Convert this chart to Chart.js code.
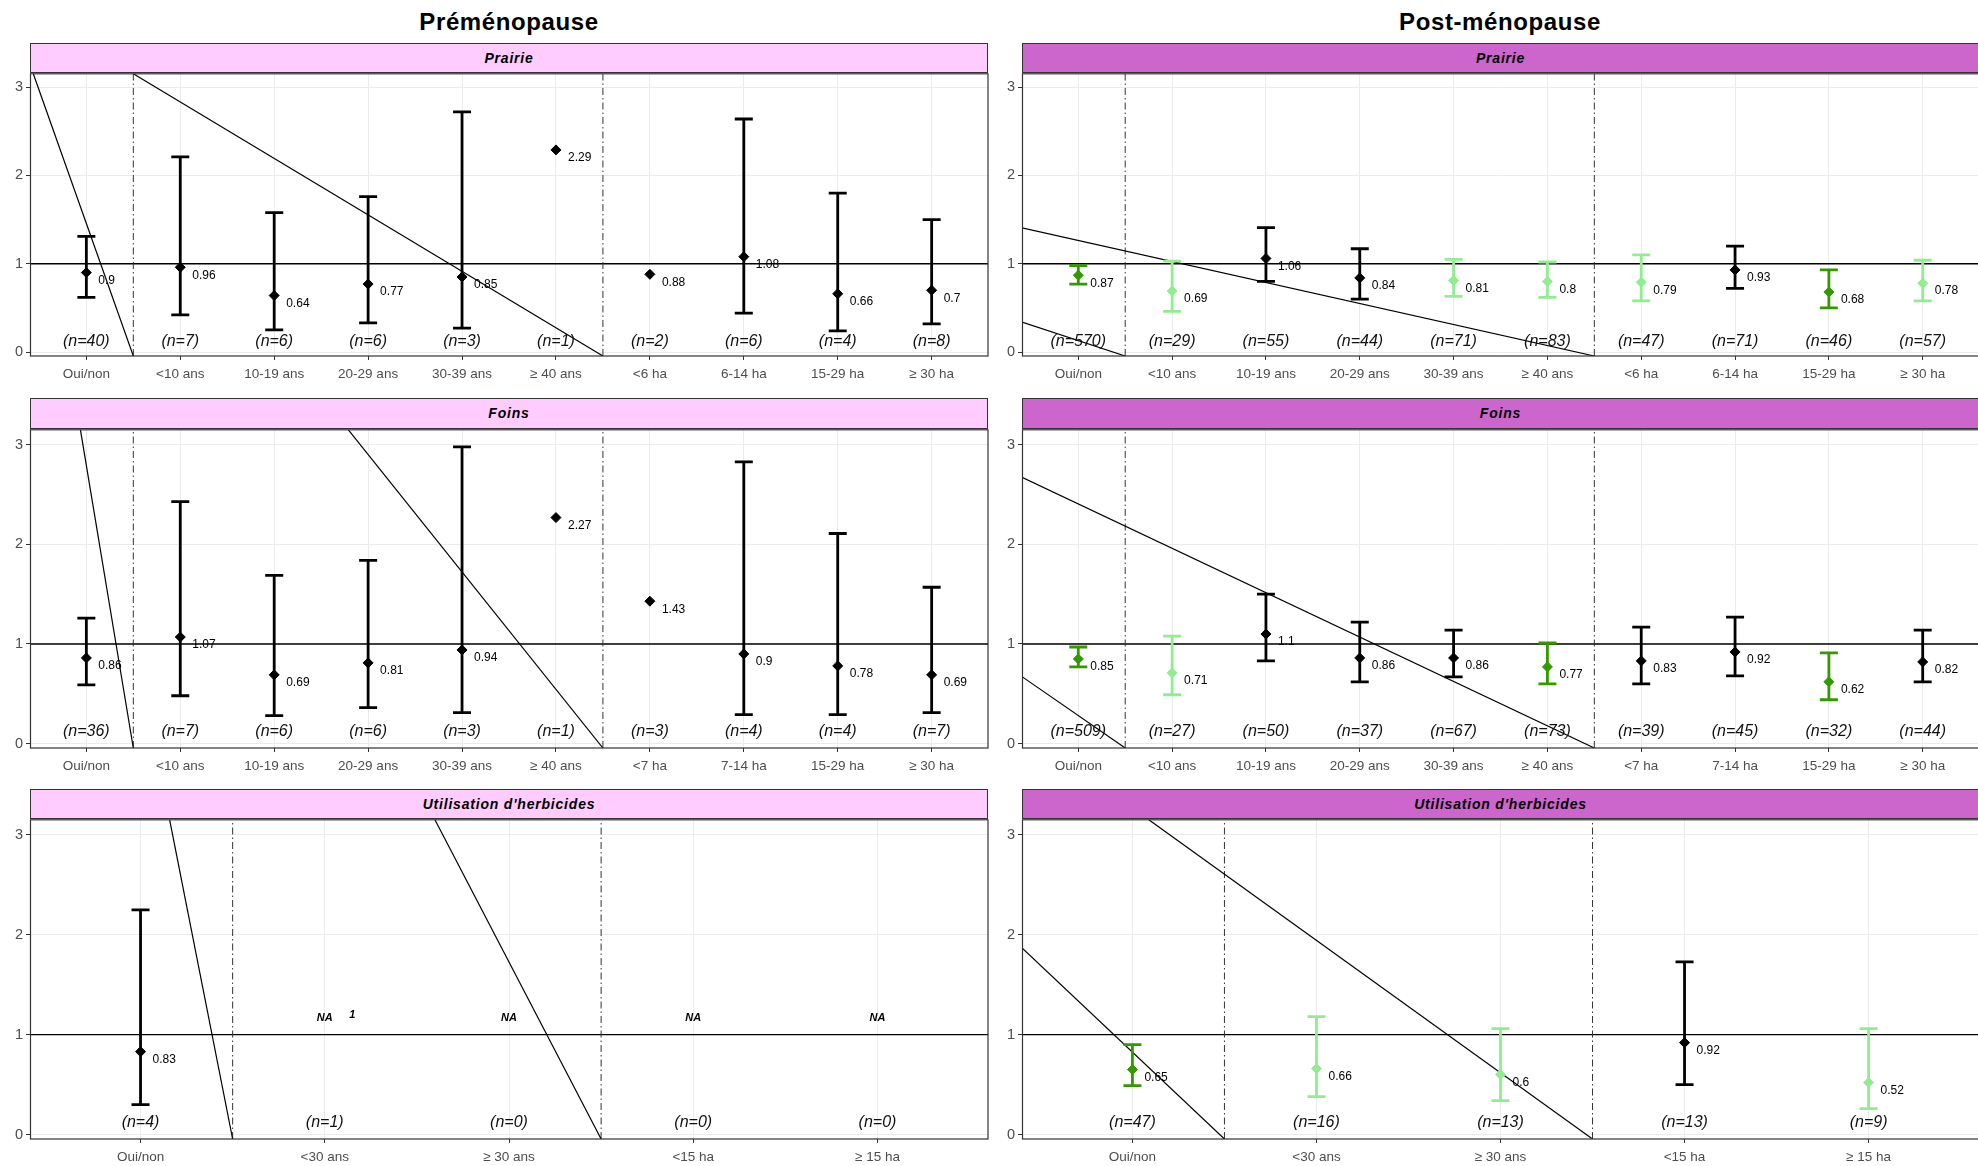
<!DOCTYPE html>
<html>
<head>
<meta charset="utf-8">
<script src="https://cdn.jsdelivr.net/npm/chart.js@4.4.1/dist/chart.umd.min.js"></script>
<style>
  body { margin: 0; width: 1978px; height: 1166px; overflow: hidden; background: #fff; position: relative;
         font-family: 'Liberation Sans', Arial, sans-serif; }
  .title { position: absolute; font-weight: bold; font-size: 24px; letter-spacing: 0.6px; text-align: center; height: 28px; line-height: 28px; }
  .strip { position: absolute; box-sizing: border-box; border: 1px solid #333; font-weight: bold; font-style: italic;
           font-size: 14px; letter-spacing: 0.8px; text-align: center; }
  canvas { position: absolute; }
</style>
</head>
<body>
<script>
const FONT = "'Liberation Sans', Arial, sans-serif";
const dark = '#339900', light = '#90EE90', black = '#000000';
const colorOf = { k: black, d: dark, l: light };

// categories
const catsPrairie = ['Oui/non', '<10 ans', '10-19 ans', '20-29 ans', '30-39 ans', '≥ 40 ans', '<6 ha', '6-14 ha', '15-29 ha', '≥ 30 ha'];
const catsFoins = ['Oui/non', '<10 ans', '10-19 ans', '20-29 ans', '30-39 ans', '≥ 40 ans', '<7 ha', '7-14 ha', '15-29 ha', '≥ 30 ha'];
const catsHerb = ['Oui/non', '<30 ans', '≥ 30 ans', '<15 ha', '≥ 15 ha'];
const yTicks = [0, 1, 2, 3];
const yMin = -0.045, yMax = 3.152;
const nLabelY = 0.12;

// Préménopause - Prairie
const prePrairieOR = [0.9, 0.96, 0.64, 0.77, 0.85, 2.29, 0.88, 1.08, 0.66, 0.7];
const prePrairieLow = [0.62, 0.42, 0.25, 0.33, 0.27, null, null, 0.44, 0.24, 0.32];
const prePrairieHigh = [1.31, 2.21, 1.58, 1.76, 2.72, null, null, 2.64, 1.8, 1.5];
const prePrairieN = [40, 7, 6, 6, 3, 1, 2, 6, 4, 8];
const prePrairieCol = ['k', 'k', 'k', 'k', 'k', 'k', 'k', 'k', 'k', 'k'];

// Post-ménopause - Prairie
const postPrairieOR = [0.87, 0.69, 1.06, 0.84, 0.81, 0.8, 0.79, 0.93, 0.68, 0.78];
const postPrairieLow = [0.77, 0.46, 0.8, 0.6, 0.63, 0.62, 0.58, 0.72, 0.5, 0.58];
const postPrairieHigh = [0.98, 1.03, 1.41, 1.17, 1.05, 1.02, 1.1, 1.2, 0.93, 1.04];
const postPrairieN = [570, 29, 55, 44, 71, 83, 47, 71, 46, 57];
const postPrairieCol = ['d', 'l', 'k', 'k', 'l', 'l', 'l', 'k', 'd', 'l'];

// Préménopause - Foins
const preFoinsOR = [0.86, 1.07, 0.69, 0.81, 0.94, 2.27, 1.43, 0.9, 0.78, 0.69];
const preFoinsLow = [0.59, 0.48, 0.28, 0.36, 0.31, null, null, 0.29, 0.29, 0.31];
const preFoinsHigh = [1.26, 2.43, 1.69, 1.84, 2.98, null, null, 2.83, 2.11, 1.57];
const preFoinsN = [36, 7, 6, 6, 3, 1, 3, 4, 4, 7];
const preFoinsCol = ['k', 'k', 'k', 'k', 'k', 'k', 'k', 'k', 'k', 'k'];

// Post-ménopause - Foins
const postFoinsOR = [0.85, 0.71, 1.1, 0.86, 0.86, 0.77, 0.83, 0.92, 0.62, 0.82];
const postFoinsLow = [0.77, 0.49, 0.83, 0.62, 0.67, 0.6, 0.6, 0.68, 0.44, 0.62];
const postFoinsHigh = [0.97, 1.08, 1.5, 1.22, 1.14, 1.01, 1.17, 1.27, 0.91, 1.14];
const postFoinsN = [509, 27, 50, 37, 67, 73, 39, 45, 32, 44];
const postFoinsCol = ['d', 'l', 'k', 'k', 'k', 'd', 'k', 'k', 'd', 'k'];

// Préménopause - Utilisation d'herbicides
const preHerbOR = [0.83, null, null, null, null];
const preHerbLow = [0.3, null, null, null, null];
const preHerbHigh = [2.25, null, null, null, null];
const preHerbN = [4, 1, 0, 0, 0];
const preHerbCol = ['k', 'k', 'k', 'k', 'k'];
const preHerbNotes = [[2, 1.17, 'NA'], [2.15, 1.2, '1'], [3, 1.17, 'NA'], [4, 1.17, 'NA'], [5, 1.17, 'NA']];

// Post-ménopause - Utilisation d'herbicides
const postHerbOR = [0.65, 0.66, 0.6, 0.92, 0.52];
const postHerbLow = [0.49, 0.38, 0.34, 0.5, 0.26];
const postHerbHigh = [0.9, 1.18, 1.06, 1.73, 1.06];
const postHerbN = [47, 16, 13, 13, 9];
const postHerbCol = ['d', 'l', 'l', 'k', 'l'];

// group separators and straight reference lines [x0, y0, x1, y1]
const sepsLong = [1.5, 6.5];
const sepsHerb = [1.5, 3.5];
const prePrairieDiag = [[0.435, 3.152, 1.5, -0.045], [1.5, 3.152, 6.5, -0.045]];
const postPrairieDiag = [[0.4, 0.338, 1.5, -0.045], [0.4, 1.407, 6.5, -0.045]];
const preFoinsDiag = [[0.937, 3.152, 1.5, -0.045], [3.79, 3.152, 6.5, -0.045]];
const postFoinsDiag = [[0.4, 0.672, 1.5, -0.045], [0.4, 2.675, 6.5, -0.045]];
const preHerbDiag = [[1.158, 3.152, 1.5, -0.045], [2.598, 3.152, 3.5, -0.045]];
const postHerbDiag = [[0.4, 1.869, 1.5, -0.045], [1.089, 3.152, 3.5, -0.045]];

// page layout
const colLeft = [30, 1022], colRight = [988, 1979];
const rowStrip = [43, 398, 789], rowTop = [72, 428, 818], rowBottom = [356, 748, 1139];
const stripFill = ['#FFCCFF', '#CC66CC'];

function addTitle(text, center) {
  const d = document.createElement('div');
  d.className = 'title';
  d.textContent = text;
  d.style.left = (center - 200) + 'px';
  d.style.width = '400px';
  d.style.top = '8px';
  document.body.appendChild(d);
}

function panel(col, row, p) {
  const left = colLeft[col], right = colRight[col];
  const top = rowTop[row], bottom = rowBottom[row];

  const s = document.createElement('div');
  s.className = 'strip';
  s.textContent = p.strip;
  s.style.left = left + 'px';
  s.style.top = rowStrip[row] + 'px';
  s.style.width = (right - left) + 'px';
  s.style.height = (top - rowStrip[row] + 1) + 'px';
  s.style.lineHeight = (top - rowStrip[row] - 1) + 'px';
  s.style.background = stripFill[col];
  document.body.appendChild(s);

  const cv = document.createElement('canvas');
  cv.width = right - left + 42;
  cv.height = bottom - top + 40;
  cv.style.left = (left - 30) + 'px';
  cv.style.top = (top - 10) + 'px';
  document.body.appendChild(cv);

  const nCat = p.cats.length;
  const datasets = [];
  datasets.push({ data: [{ x: 0.4, y: 1 }, { x: nCat + 0.6, y: 1 }], showLine: true,
                  borderColor: '#000', borderWidth: 1.3, pointRadius: 0, order: 6 });
  p.seps.forEach(v => datasets.push({ data: [{ x: v, y: yMin }, { x: v, y: yMax }], showLine: true,
                  borderColor: '#333', borderWidth: 1, borderDash: [7, 3, 1.5, 3], pointRadius: 0, order: 5 }));
  p.diag.forEach(d => datasets.push({ data: [{ x: d[0], y: d[1] }, { x: d[2], y: d[3] }], showLine: true,
                  borderColor: '#000', borderWidth: 1.2, pointRadius: 0, order: 4 }));
  p.or.forEach((v, i) => {
    if (p.low[i] == null) return;
    const c = colorOf[p.col[i]];
    datasets.push({ data: [{ x: i + 1, y: p.low[i] }, { x: i + 1, y: p.high[i] }], showLine: true,
                    borderColor: c, borderWidth: 2.8, pointStyle: 'line', pointRadius: 9,
                    pointBorderWidth: 2.8, pointBorderColor: c, order: 2 });
  });
  const pts = [], ptCols = [];
  p.or.forEach((v, i) => {
    if (v == null) return;
    pts.push({ x: i + 1, y: v });
    ptCols.push(colorOf[p.col[i]]);
  });
  datasets.push({ data: pts, pointStyle: 'rectRot', pointRadius: 5, pointBackgroundColor: ptCols,
                  pointBorderColor: ptCols, pointBorderWidth: 1, order: 1 });

  const textPlugin = {
    id: 'panelText',
    afterDatasetsDraw(chart) {
      const ctx = chart.ctx, xs = chart.scales.x, ys = chart.scales.y;
      ctx.save();
      ctx.fillStyle = '#000';
      ctx.textBaseline = 'middle';
      ctx.font = '12px ' + FONT;
      ctx.textAlign = 'left';
      p.or.forEach((v, i) => {
        if (v == null) return;
        ctx.fillText(String(v), xs.getPixelForValue(i + 1) + 12, ys.getPixelForValue(v) + 8);
      });
      ctx.font = 'italic 16px ' + FONT;
      ctx.textAlign = 'center';
      ctx.fillStyle = '#111';
      p.n.forEach((n, i) => {
        ctx.fillText('(n=' + n + ')', xs.getPixelForValue(i + 1), ys.getPixelForValue(nLabelY));
      });
      ctx.font = 'bold italic 11px ' + FONT;
      ctx.fillStyle = '#000';
      (p.notes || []).forEach(t => {
        ctx.fillText(t[2], xs.getPixelForValue(t[0]), ys.getPixelForValue(t[1]));
      });
      const a = chart.chartArea;
      ctx.strokeStyle = '#333';
      ctx.lineWidth = 1.2;
      ctx.strokeRect(a.left + 0.5, a.top, a.width - 0.5, a.height);
      ctx.restore();
    }
  };

  new Chart(cv, {
    type: 'scatter',
    data: { datasets: datasets },
    options: {
      responsive: false,
      animation: false,
      devicePixelRatio: 1,
      layout: { padding: { top: 10, right: 12, bottom: 0, left: 0 } },
      plugins: { legend: { display: false }, tooltip: { enabled: false } },
      scales: {
        x: {
          type: 'linear', min: 0.4, max: nCat + 0.6,
          afterBuildTicks: sc => { sc.ticks = p.cats.map((c, i) => ({ value: i + 1 })); },
          afterFit: sc => { sc.height = 30; },
          ticks: { callback: v => p.cats[v - 1], color: '#4D4D4D', font: { size: 13.5, family: FONT },
                   padding: 6, autoSkip: false, maxRotation: 0 },
          grid: { color: '#EBEBEB', tickColor: '#333', tickLength: 4 },
          border: { display: false }
        },
        y: {
          min: yMin, max: yMax,
          afterBuildTicks: sc => { sc.ticks = yTicks.map(v => ({ value: v })); },
          afterFit: sc => { sc.width = 30; },
          ticks: { color: '#4D4D4D', font: { size: 14.5, family: FONT }, padding: 3 },
          grid: { color: '#EBEBEB', tickColor: '#333', tickLength: 4 },
          border: { display: false }
        }
      }
    },
    plugins: [textPlugin]
  });
}

addTitle('Préménopause', 509);
addTitle('Post-ménopause', 1500);

panel(0, 0, { strip: 'Prairie', cats: catsPrairie, or: prePrairieOR, low: prePrairieLow, high: prePrairieHigh,
              n: prePrairieN, col: prePrairieCol, seps: sepsLong, diag: prePrairieDiag });
panel(1, 0, { strip: 'Prairie', cats: catsPrairie, or: postPrairieOR, low: postPrairieLow, high: postPrairieHigh,
              n: postPrairieN, col: postPrairieCol, seps: sepsLong, diag: postPrairieDiag });
panel(0, 1, { strip: 'Foins', cats: catsFoins, or: preFoinsOR, low: preFoinsLow, high: preFoinsHigh,
              n: preFoinsN, col: preFoinsCol, seps: sepsLong, diag: preFoinsDiag });
panel(1, 1, { strip: 'Foins', cats: catsFoins, or: postFoinsOR, low: postFoinsLow, high: postFoinsHigh,
              n: postFoinsN, col: postFoinsCol, seps: sepsLong, diag: postFoinsDiag });
panel(0, 2, { strip: "Utilisation d'herbicides", cats: catsHerb, or: preHerbOR, low: preHerbLow, high: preHerbHigh,
              n: preHerbN, col: preHerbCol, seps: sepsHerb, diag: preHerbDiag, notes: preHerbNotes });
panel(1, 2, { strip: "Utilisation d'herbicides", cats: catsHerb, or: postHerbOR, low: postHerbLow, high: postHerbHigh,
              n: postHerbN, col: postHerbCol, seps: sepsHerb, diag: postHerbDiag });
</script>
</body>
</html>
